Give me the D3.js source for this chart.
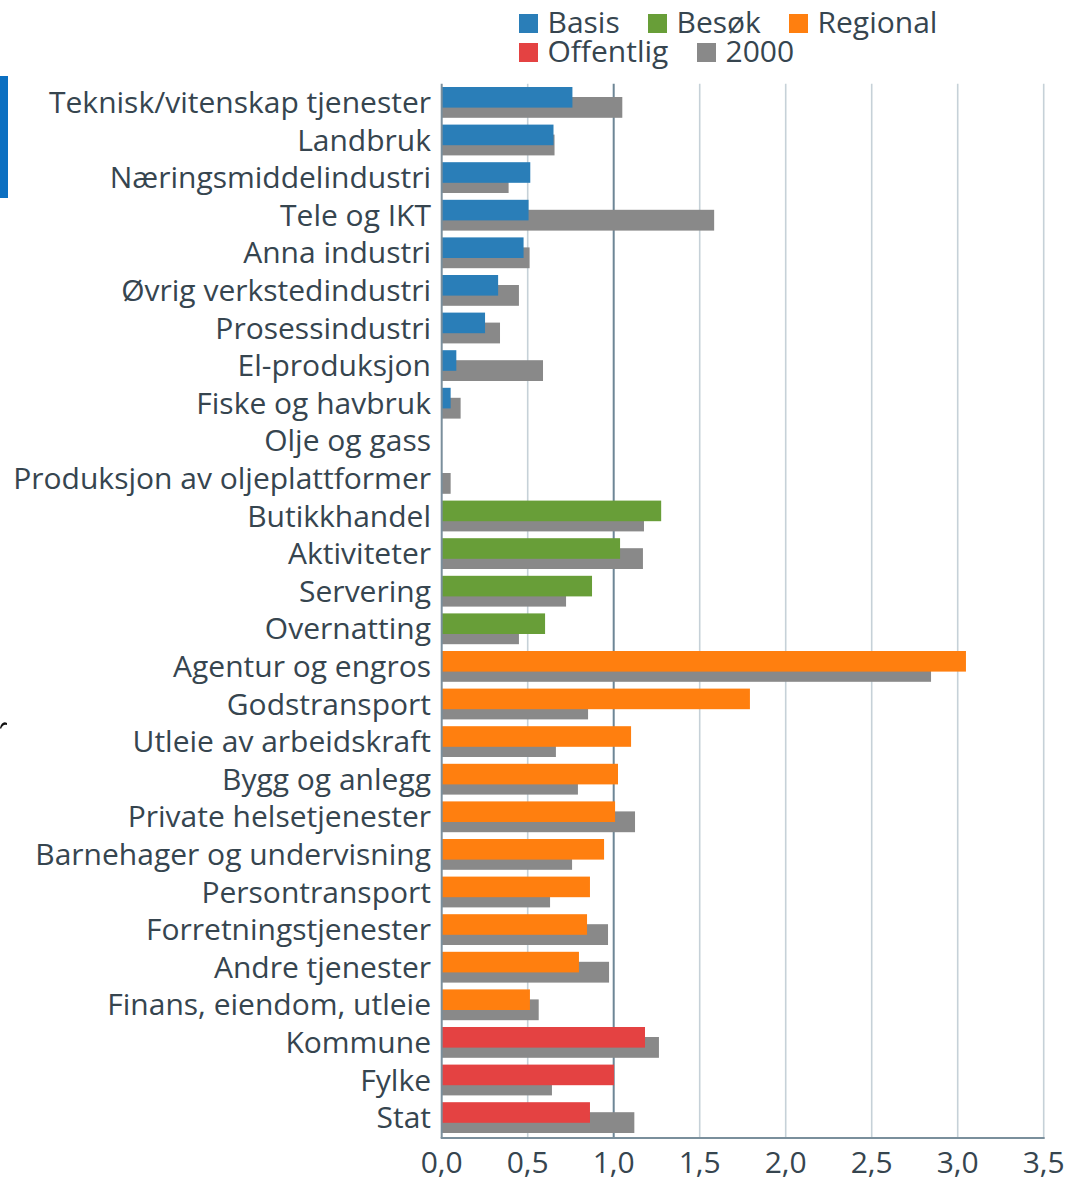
<!DOCTYPE html>
<html>
<head>
<meta charset="utf-8">
<script src="https://cdn.jsdelivr.net/npm/d3@7"></script>
<style>
  html, body { margin: 0; padding: 0; background: #fff; }
  svg { display: block; }
  text { font-family: "Open Sans", sans-serif; }
</style>
</head>
<body>
<svg id="chart" width="1069" height="1178"></svg>
<script>
// ---- data ----
const categories = [
  "Teknisk/vitenskap tjenester", "Landbruk", "Næringsmiddelindustri", "Tele og IKT",
  "Anna industri", "Øvrig verkstedindustri", "Prosessindustri", "El-produksjon",
  "Fiske og havbruk", "Olje og gass", "Produksjon av oljeplattformer",
  "Butikkhandel", "Aktiviteter", "Servering", "Overnatting",
  "Agentur og engros", "Godstransport", "Utleie av arbeidskraft", "Bygg og anlegg",
  "Private helsetjenester", "Barnehager og undervisning", "Persontransport",
  "Forretningstjenester", "Andre tjenester", "Finans, eiendom, utleie",
  "Kommune", "Fylke", "Stat"
];
const groups = [
  "Basis", "Basis", "Basis", "Basis", "Basis", "Basis", "Basis", "Basis", "Basis", "Basis", "Basis",
  "Besøk", "Besøk", "Besøk", "Besøk",
  "Regional", "Regional", "Regional", "Regional", "Regional", "Regional", "Regional", "Regional", "Regional", "Regional",
  "Offentlig", "Offentlig", "Offentlig"
];
const currentValues = [
  0.76, 0.65, 0.515, 0.505, 0.476, 0.328, 0.252, 0.085, 0.052, 0.0, 0.0,
  1.276, 1.037, 0.874, 0.601,
  3.048, 1.792, 1.101, 1.025, 1.008, 0.944, 0.862, 0.845, 0.798, 0.513,
  1.182, 1.002, 0.862
];
const values2000 = [
  1.05, 0.656, 0.389, 1.584, 0.511, 0.449, 0.339, 0.589, 0.11, 0.0, 0.052,
  1.176, 1.170, 0.723, 0.449,
  2.845, 0.851, 0.664, 0.792, 1.124, 0.758, 0.630, 0.967, 0.973, 0.564,
  1.263, 0.641, 1.12
];
const legendNames = ["Basis", "Besøk", "Regional", "Offentlig", "2000"];
const xTicks = [0, 0.5, 1, 1.5, 2, 2.5, 3, 3.5];

// ---- styles ----
const colors = {
  "Basis": "#2a7eb8",
  "Besøk": "#689e38",
  "Regional": "#ff7f0f",
  "Offentlig": "#e44242",
  "2000": "#898989"
};
const textColor = "#36454f";

const rows = categories.map((c, i) => ({ cat: c, group: groups[i], v: currentValues[i], v0: values2000[i] }));

const svg = d3.select("#chart");
const plotLeft = 441.7, plotRight = 1043.7, plotTop = 83.7, plotBottom = 1137;

const x = d3.scaleLinear().domain([0, 3.5]).range([plotLeft, plotRight]);
const y = d3.scaleBand().domain(categories).range([plotTop, plotTop + 28 * 37.6]).padding(0);

// page artifacts at left edge
svg.append("rect").attr("x", 0).attr("y", 76).attr("width", 8).attr("height", 122).attr("fill", "#0b6fc1");
svg.append("path").attr("d", "M0,728 C1,723 4,721 7,723 L7,725 C4,724 2,726 1,729 Z").attr("fill", "#111");

// gridlines
svg.append("g").selectAll("line").data(xTicks.filter(t => t > 0)).join("line")
  .attr("x1", d => x(d)).attr("x2", d => x(d))
  .attr("y1", plotTop).attr("y2", plotBottom)
  .attr("stroke", d => d === 1 ? "#6d8696" : "#c6d1d8")
  .attr("stroke-width", d => d === 1 ? 2 : 1.6);

// bars
const step = y.step();
const g = svg.append("g");
g.selectAll("rect.old").data(rows).join("rect").attr("class", "old")
  .attr("x", x(0)).attr("y", d => y(d.cat) + 13.3)
  .attr("width", d => x(d.v0) - x(0)).attr("height", 20.8)
  .attr("fill", colors["2000"]);
g.selectAll("rect.cur").data(rows).join("rect").attr("class", "cur")
  .attr("x", x(0)).attr("y", d => y(d.cat) + 3.3)
  .attr("width", d => x(d.v) - x(0)).attr("height", 20.6)
  .attr("fill", d => colors[d.group]);

// axes lines
svg.append("line").attr("x1", x(0)).attr("x2", x(0)).attr("y1", plotTop).attr("y2", plotBottom + 1)
  .attr("stroke", "#7a8f9c").attr("stroke-width", 2);
svg.append("line").attr("x1", x(0) - 1).attr("x2", x(3.5) + 1).attr("y1", plotBottom + 1).attr("y2", plotBottom + 1)
  .attr("stroke", "#7a8f9c").attr("stroke-width", 2);

// category labels
svg.append("g").selectAll("text").data(rows).join("text")
  .attr("x", 431).attr("y", d => y(d.cat) + step / 2 + 10.5)
  .attr("text-anchor", "end").attr("font-size", 30).attr("fill", textColor)
  .text(d => d.cat);

// x tick labels
const fmt = d3.format(".1f");
svg.append("g").selectAll("text").data(xTicks).join("text")
  .attr("x", d => x(d)).attr("y", 1173)
  .attr("text-anchor", "middle").attr("font-size", 30).attr("fill", textColor)
  .text(d => fmt(d).replace(".", ","));

// legend
const legendPos = [[519, 14], [648, 14], [789, 14], [519, 43], [697, 43]];
const lg = svg.append("g").selectAll("g").data(legendNames).join("g")
  .attr("transform", (d, i) => `translate(${legendPos[i][0]},${legendPos[i][1]})`);
lg.append("rect").attr("width", 19).attr("height", 19).attr("fill", d => colors[d]);
lg.append("text").attr("x", 28.5).attr("y", 19).attr("font-size", 30).attr("fill", textColor).text(d => d);
</script>
</body>
</html>
